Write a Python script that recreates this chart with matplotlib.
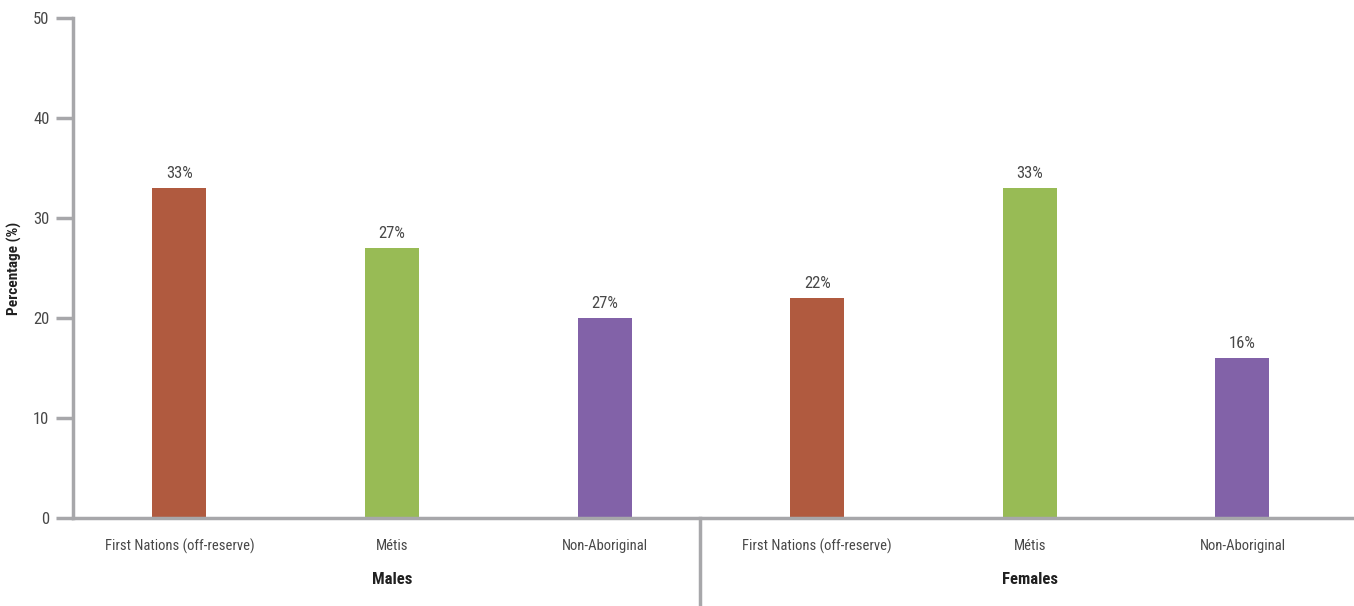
import matplotlib.pyplot as plt
import matplotlib.font_manager as fm

names = {f.name for f in fm.fontManager.ttflist}
fam = None
for c in ['Roboto Condensed', 'Liberation Sans Narrow', 'Open Sans Condensed']:
    if c in names:
        fam = c
        break
if fam is None:
    fam = 'Liberation Sans'
plt.rcParams['font.family'] = [fam, 'DejaVu Sans']

categories = ['First Nations (off-reserve)', 'Métis', 'Non-Aboriginal',
              'First Nations (off-reserve)', 'Métis', 'Non-Aboriginal']
groups = ['Males', 'Females']
values = [33, 27, 20, 22, 33, 16]
value_labels = ['33%', '27%', '27%', '22%', '33%', '16%']
colors = ['#b05a3f', '#98bb55', '#8262a8', '#b05a3f', '#98bb55', '#8262a8']
yticks = [0, 10, 20, 30, 40, 50]

W, H = 1354, 606
fig = plt.figure(figsize=(W / 100, H / 100), dpi=100)
ax = fig.add_axes([73 / W, (H - 518) / H, (1352 - 73) / W, 500 / H])

x = list(range(len(values)))
ax.bar(x, values, width=0.254, color=colors, zorder=2)
for xi, v, lab in zip(x, values, value_labels):
    ax.annotate(lab, (xi, v), xytext=(0, 5), textcoords='offset points',
                ha='center', va='bottom', fontsize=12, color='#484848')

ax.set_xlim(-0.5, 5.515)
ax.set_ylim(0, 50)
ax.set_yticks(yticks)
ax.set_yticklabels([str(t) for t in yticks], fontsize=12, color='#484848')
ax.tick_params(axis='y', length=12, width=2.5, color='#a7a7aa', pad=5)
ax.set_xticks(x)
ax.set_xticklabels(categories, fontsize=10.5, color='#484848')
ax.tick_params(axis='x', length=0, pad=15)
ax.set_ylabel('Percentage (%)', fontsize=11, fontweight='bold', color='#202020')
ax.yaxis.set_label_coords(-0.0399, 0.5)

for s in ['top', 'right']:
    ax.spines[s].set_visible(False)
for s in ['left', 'bottom']:
    ax.spines[s].set_color('#a7a7aa')
    ax.spines[s].set_linewidth(2.5)

# group separator and labels
ax.plot([2.45, 2.45], [0, -0.176], transform=ax.get_xaxis_transform(),
        color='#a7a7aa', lw=2.5, clip_on=False)
for gx, g in zip([1, 4], groups):
    ax.text(gx, -0.122, g, transform=ax.get_xaxis_transform(), ha='center', va='center',
            fontsize=12, fontweight='bold', color='#202020')

fig.savefig('out.png', dpi=100)
